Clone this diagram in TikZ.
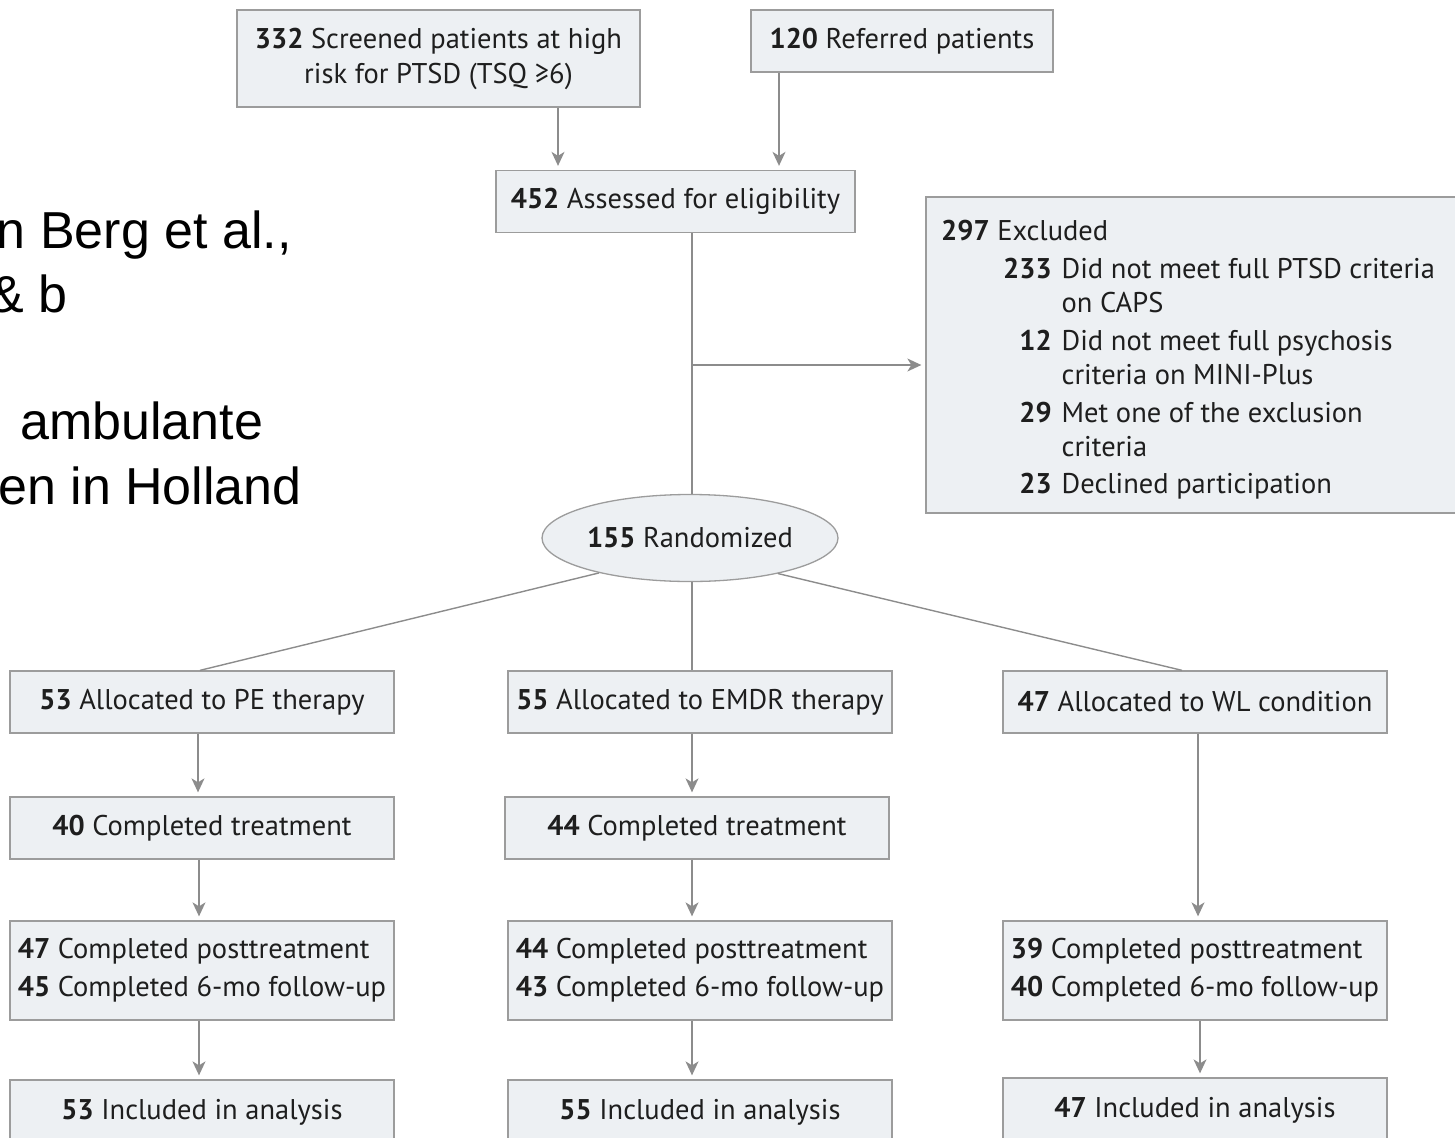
\documentclass[tikz,border=0pt]{standalone}
\usepackage{fontspec}
\setmainfont{PT Sans}
\newfontfamily\arialf{Liberation Sans}
\usetikzlibrary{arrows.meta,shapes.geometric}
\definecolor{linec}{HTML}{8C8C8C}
\definecolor{boxfill}{HTML}{EDF0F3}
\definecolor{boxdraw}{HTML}{9C9C9C}
\definecolor{txt}{HTML}{1E1E1E}
\tikzset{
  boxfont/.style={font=\fontsize{28.5}{35}\selectfont},
  box/.style={draw=boxdraw, fill=boxfill, line width=1.3pt, text=txt, boxfont,
    inner sep=0pt, minimum height=62pt, align=center},
  w384/.style={minimum width=384pt},
  twoline/.style={box, w384, minimum height=99pt, align=left,
    font=\fontsize{28.5}{38}\selectfont},
  conn/.style={draw=linec, line width=1.4pt},
  arr/.style={conn, -{Stealth[length=14pt,width=13pt,inset=4pt]}, shorten >=4pt},
  big/.style={font=\arialf\fontsize{52}{64}\selectfont, text=black, inner sep=0pt}
}
\begin{document}
\begin{tikzpicture}[x=1pt,y=-1pt]
\path[use as bounding box] (0,0) rectangle (1455,1137);
\clip (0,0) rectangle (1455,1137);

% left partial text
\node[big, anchor=base east] (t1) at (292,248) {n Berg et al.,};
\node[big, anchor=base east] (t2) at (68,312) {\& b};
\node[big, anchor=base west] (t3) at (20,439) {ambulante};
\node[big, anchor=base east] (t4) at (302,504) {en in Holland};

% top
\node[box, minimum width=403pt, minimum height=97pt] (scr) at (438.5,58.5)
  {\textbf{332} Screened patients at high\\risk for PTSD (TSQ ≥6)};
\node[box, minimum width=302pt] (ref) at (902,41) {\textbf{120} Referred patients};
\node[box, minimum width=359pt] (ass) at (675.5,201.5) {\textbf{452} Assessed for eligibility};

% excluded
\node[box, minimum width=540pt, minimum height=316pt] (exc) at (1196,355) {};
\node[anchor=base west, inner sep=0pt, text=txt, font=\fontsize{28.5}{34}\selectfont] (exctext) at (941,240) {%
  \setlength{\tabcolsep}{0pt}\renewcommand{\arraystretch}{1}%
  \begin{tabular}[t]{@{}p{62pt}@{}r@{\hspace{10pt}}l@{}}
  \multicolumn{3}{@{}l@{}}{\textbf{297} Excluded}\\[4pt]
  & \textbf{233} & Did not meet full PTSD criteria\\
  & & on CAPS\\[4pt]
  & \textbf{12} & Did not meet full psychosis\\
  & & criteria on MINI-Plus\\[4pt]
  & \textbf{29} & Met one of the exclusion\\
  & & criteria\\[3pt]
  & \textbf{23} & Declined participation
  \end{tabular}};

% randomized
\node[ellipse, draw=boxdraw, fill=boxfill, line width=1.3pt, minimum width=296pt,
  minimum height=87pt, inner sep=0pt, text=txt, boxfont] (rnd) at (690,538)
  {\textbf{155} Randomized};

% row 1
\node[box, w384] (pe1) at (202,702) {\textbf{53} Allocated to PE therapy};
\node[box, w384] (em1) at (700,702) {\textbf{55} Allocated to EMDR therapy};
\node[box, w384] (wl1) at (1195,702) {\textbf{47} Allocated to WL condition};
% row 2
\node[box, w384] (pe2) at (202,828) {\textbf{40} Completed treatment};
\node[box, w384] (em2) at (697,828) {\textbf{44} Completed treatment};
% row 3
\node[twoline] (pe3) at (202,970.5) {\textbf{47} Completed posttreatment\\\textbf{45} Completed 6-mo follow-up};
\node[twoline] (em3) at (700,970.5) {\textbf{44} Completed posttreatment\\\textbf{43} Completed 6-mo follow-up};
\node[twoline] (wl3) at (1195,970.5) {\textbf{39} Completed posttreatment\\\textbf{40} Completed 6-mo follow-up};
% row 4
\node[box, w384, minimum height=64pt] (pe4) at (202,1112) {\textbf{53} Included in analysis};
\node[box, w384, minimum height=64pt] (em4) at (700,1112) {\textbf{55} Included in analysis};
\node[box, w384, minimum height=64pt] (wl4) at (1195,1110) {\textbf{47} Included in analysis};

% connectors top
\draw[arr] ([xshift=119.5pt]scr.south) -- ([xshift=119.5pt]scr.south |- ass.north);
\draw[arr] ([xshift=-123pt]ref.south) -- ([xshift=-123pt]ref.south |- ass.north);
\draw[conn] ([xshift=2pt]rnd.north |- ass.south) -- ([xshift=2pt]rnd.north);
\path ([xshift=2pt]rnd.north |- 0,365) coordinate (br);
\draw[arr] (br) -- (br -| exc.west);

% randomization split
\draw[conn] (rnd.201) -- ([xshift=-2pt]pe1.north);
\draw[conn] ([xshift=2pt]rnd.south) -- ([xshift=2pt]rnd.south |- em1.north);
\draw[conn] (rnd.338) -- ([xshift=-13pt]wl1.north);

% columns
\draw[arr] ([xshift=-4pt]pe1.south) -- ([xshift=-4pt]pe2.north);
\draw[arr] ([xshift=-3pt]pe2.south) -- ([xshift=-3pt]pe3.north);
\draw[arr] ([xshift=-3pt]pe3.south) -- ([xshift=-3pt]pe4.north);
\draw[arr] ([xshift=-8pt]em1.south) -- ([xshift=-8pt]em1.south |- em2.north);
\draw[arr] ([xshift=-5pt]em2.south) -- ([xshift=-5pt]em2.south |- em3.north);
\draw[arr] ([xshift=-8pt]em3.south) -- ([xshift=-8pt]em4.north);
\draw[arr] ([xshift=3pt]wl1.south) -- ([xshift=3pt]wl3.north);
\draw[arr] ([xshift=5pt]wl3.south) -- ([xshift=5pt]wl4.north);
\end{tikzpicture}
\end{document}
